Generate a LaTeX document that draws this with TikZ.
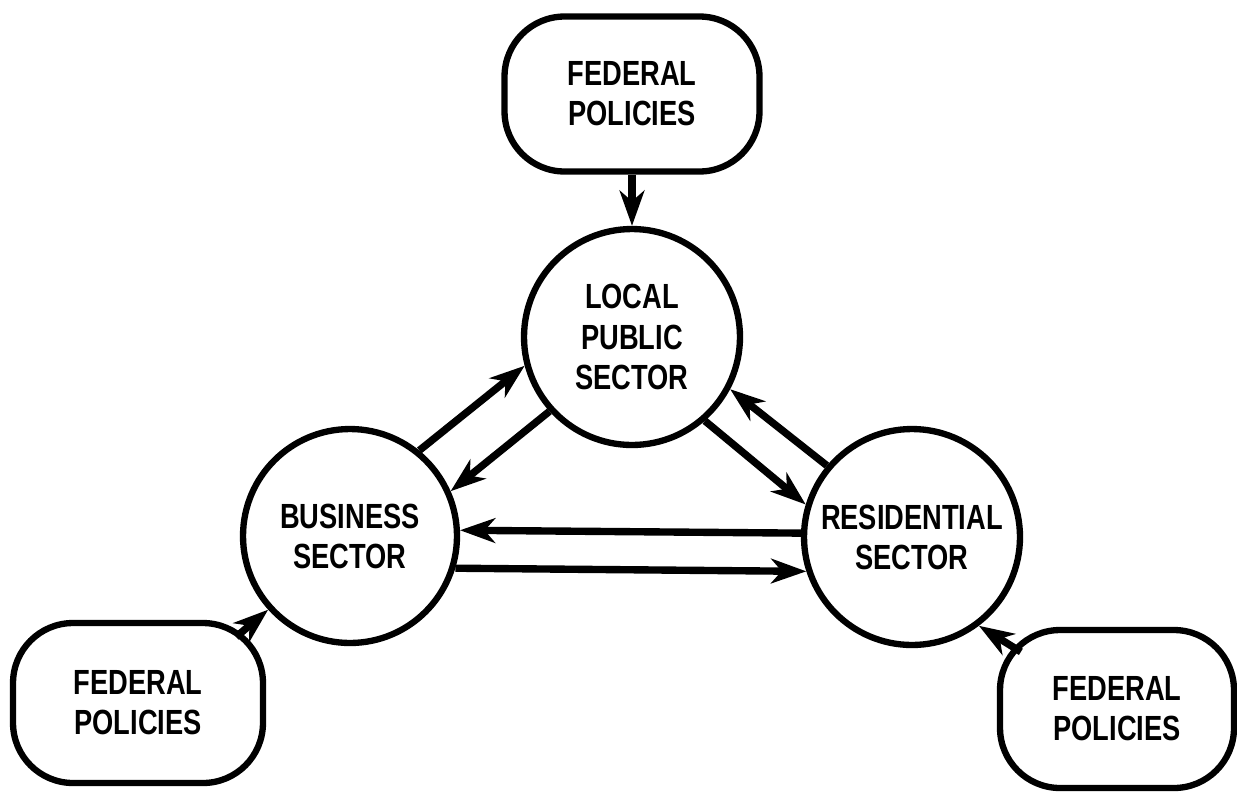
\documentclass[tikz,border=0pt]{standalone}
\usepackage{fontspec}
\newfontfamily\lettering[FakeStretch=0.78]{Liberation Sans}
\usetikzlibrary{arrows.meta,calc}
\begin{document}
\begin{tikzpicture}[x=0.02cm,y=-0.02cm,
  lbl/.style={font=\lettering\bfseries\fontsize{19.9pt}{22.8pt}\selectfont, align=center, inner sep=0pt},
  sector/.style={lbl, circle, draw, line width=3.6pt, minimum size=4.32cm},
  policy/.style={lbl, draw, line width=3.6pt, rounded corners=1.2cm},
  flow/.style={line width=4.2pt, -{Stealth[length=20pt,width=14pt,inset=6pt]}}]
\useasboundingbox (0,0) rectangle (1237,792);
\node[policy, minimum width=5.1cm, minimum height=3.1cm] (top) at (632,94) {FEDERAL\\POLICIES};
\node[sector] (loc) at (632,337) {LOCAL\\PUBLIC\\SECTOR};
\node[sector, minimum size=4.28cm] (bus) at (350,536) {BUSINESS\\SECTOR};
\node[sector] (res) at (912,537) {RESIDENTIAL\\SECTOR};
\node[policy, minimum width=5.0cm, minimum height=3.2cm] (fl) at (138,703) {FEDERAL\\POLICIES};
\node[policy, minimum width=4.68cm, minimum height=3.16cm] (fr) at (1117,709) {FEDERAL\\POLICIES};
\draw[flow] (top.south) -- (loc.north);
\draw[flow] (bus.51) -- (loc.195);
\draw[flow] (loc.222) -- (bus.24);
\draw[flow] (res.140) -- (loc.332);
\draw[flow] (loc.311) -- (res.163);
\draw[flow] (res.178) -- (bus.3);
\draw[flow] (bus.343) -- (res.198);
\draw[flow] ($(fl.north east)+(-30,17)$) -- (bus.222);
\draw[flow] ($(fr.north west)+(24,25)$) -- (res.307);
\end{tikzpicture}
\end{document}
